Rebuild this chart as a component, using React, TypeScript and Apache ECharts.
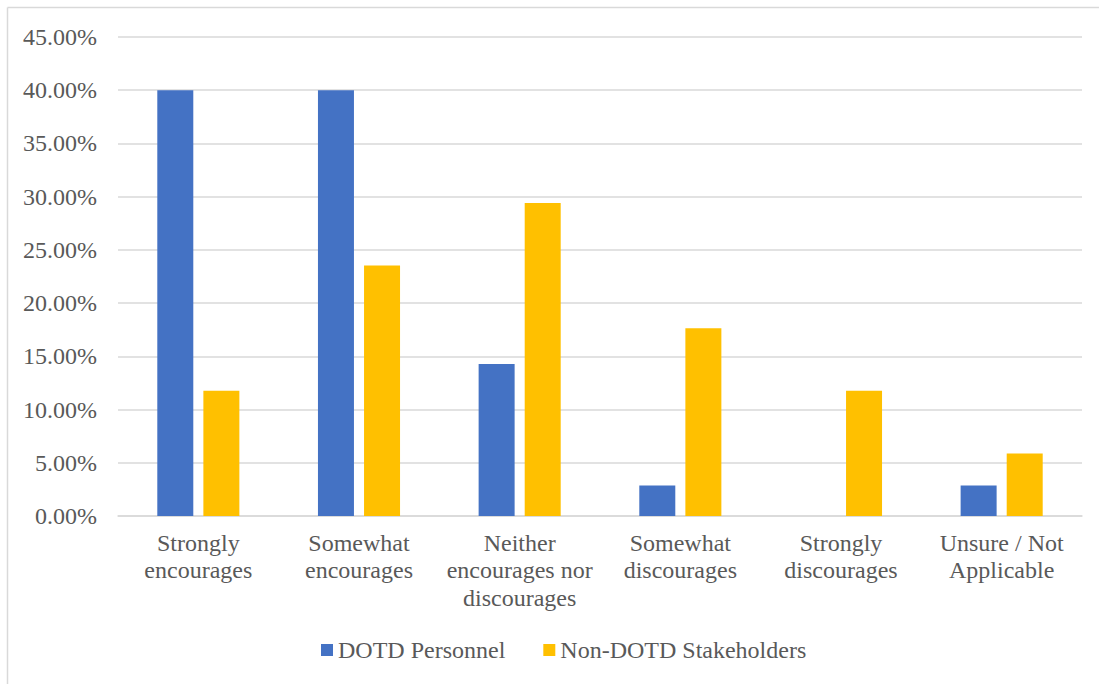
import React, { useEffect, useRef } from "react";
import * as echarts from "echarts";

const categories = [
  "Strongly\nencourages",
  "Somewhat\nencourages",
  "Neither\nencourages nor\ndiscourages",
  "Somewhat\ndiscourages",
  "Strongly\ndiscourages",
  "Unsure / Not\nApplicable",
];
const seriesNames = ["DOTD Personnel", "Non-DOTD Stakeholders"];
const dotdValues = [0.4, 0.4, 0.1429, 0.0286, 0, 0.0286];
const nonDotdValues = [0.1176, 0.2353, 0.2941, 0.1765, 0.1176, 0.0588];

const FONT = "Liberation Serif";
const TEXT = "#595959";
const FS = 24;

export default function App() {
  const ref = useRef<HTMLDivElement>(null);
  useEffect(() => {
    if (!ref.current) return;
    const chart = echarts.init(ref.current, undefined, { renderer: "svg" });
    chart.setOption({
      animation: false,
      backgroundColor: "#ffffff",
      textStyle: { fontFamily: FONT },
      graphic: [
        { type: "line", shape: { x1: 7.5, y1: 7.5, x2: 1099, y2: 7.5 }, style: { stroke: "#d9d9d9", lineWidth: 1.5 } },
        { type: "line", shape: { x1: 7.5, y1: 7.5, x2: 7.5, y2: 684 }, style: { stroke: "#d9d9d9", lineWidth: 1.5 } },
      ],
      grid: { left: 118, right: 17, top: 37, bottom: 168, containLabel: false },
      legend: {
        data: seriesNames,
        left: 316,
        top: 633,
        itemWidth: 12,
        itemHeight: 12,
        itemGap: 38,
        icon: "rect",
        textStyle: { fontFamily: FONT, fontSize: FS, color: TEXT },
      },
      xAxis: {
        type: "category",
        data: categories,
        axisLine: { lineStyle: { color: "#d9d9d9", width: 1.5 } },
        axisTick: { show: false },
        axisLabel: {
          interval: 0,
          fontFamily: FONT,
          fontSize: FS,
          color: TEXT,
          lineHeight: 27.5,
          margin: 13,
        },
      },
      yAxis: {
        type: "value",
        min: 0,
        max: 0.45,
        interval: 0.05,
        axisLine: { show: false },
        axisTick: { show: false },
        splitLine: { lineStyle: { color: "#d9d9d9", width: 1.5 } },
        axisLabel: {
          fontFamily: FONT,
          fontSize: FS,
          color: TEXT,
          margin: 21,
          formatter: (v: number) => (v * 100).toFixed(2) + "%",
        },
      },
      series: [
        {
          name: seriesNames[0],
          type: "bar",
          data: dotdValues,
          barWidth: 36,
          barGap: "28%",
          itemStyle: { color: "#4472C4" },
        },
        {
          name: seriesNames[1],
          type: "bar",
          data: nonDotdValues,
          barWidth: 36,
          barGap: "28%",
          itemStyle: { color: "#FFC000" },
        },
      ],
    });
    return () => chart.dispose();
  }, []);
  return (
    <div
      ref={ref}
      style={{ position: "absolute", left: 0, top: 0, width: 1099, height: 684 }}
    />
  );
}
